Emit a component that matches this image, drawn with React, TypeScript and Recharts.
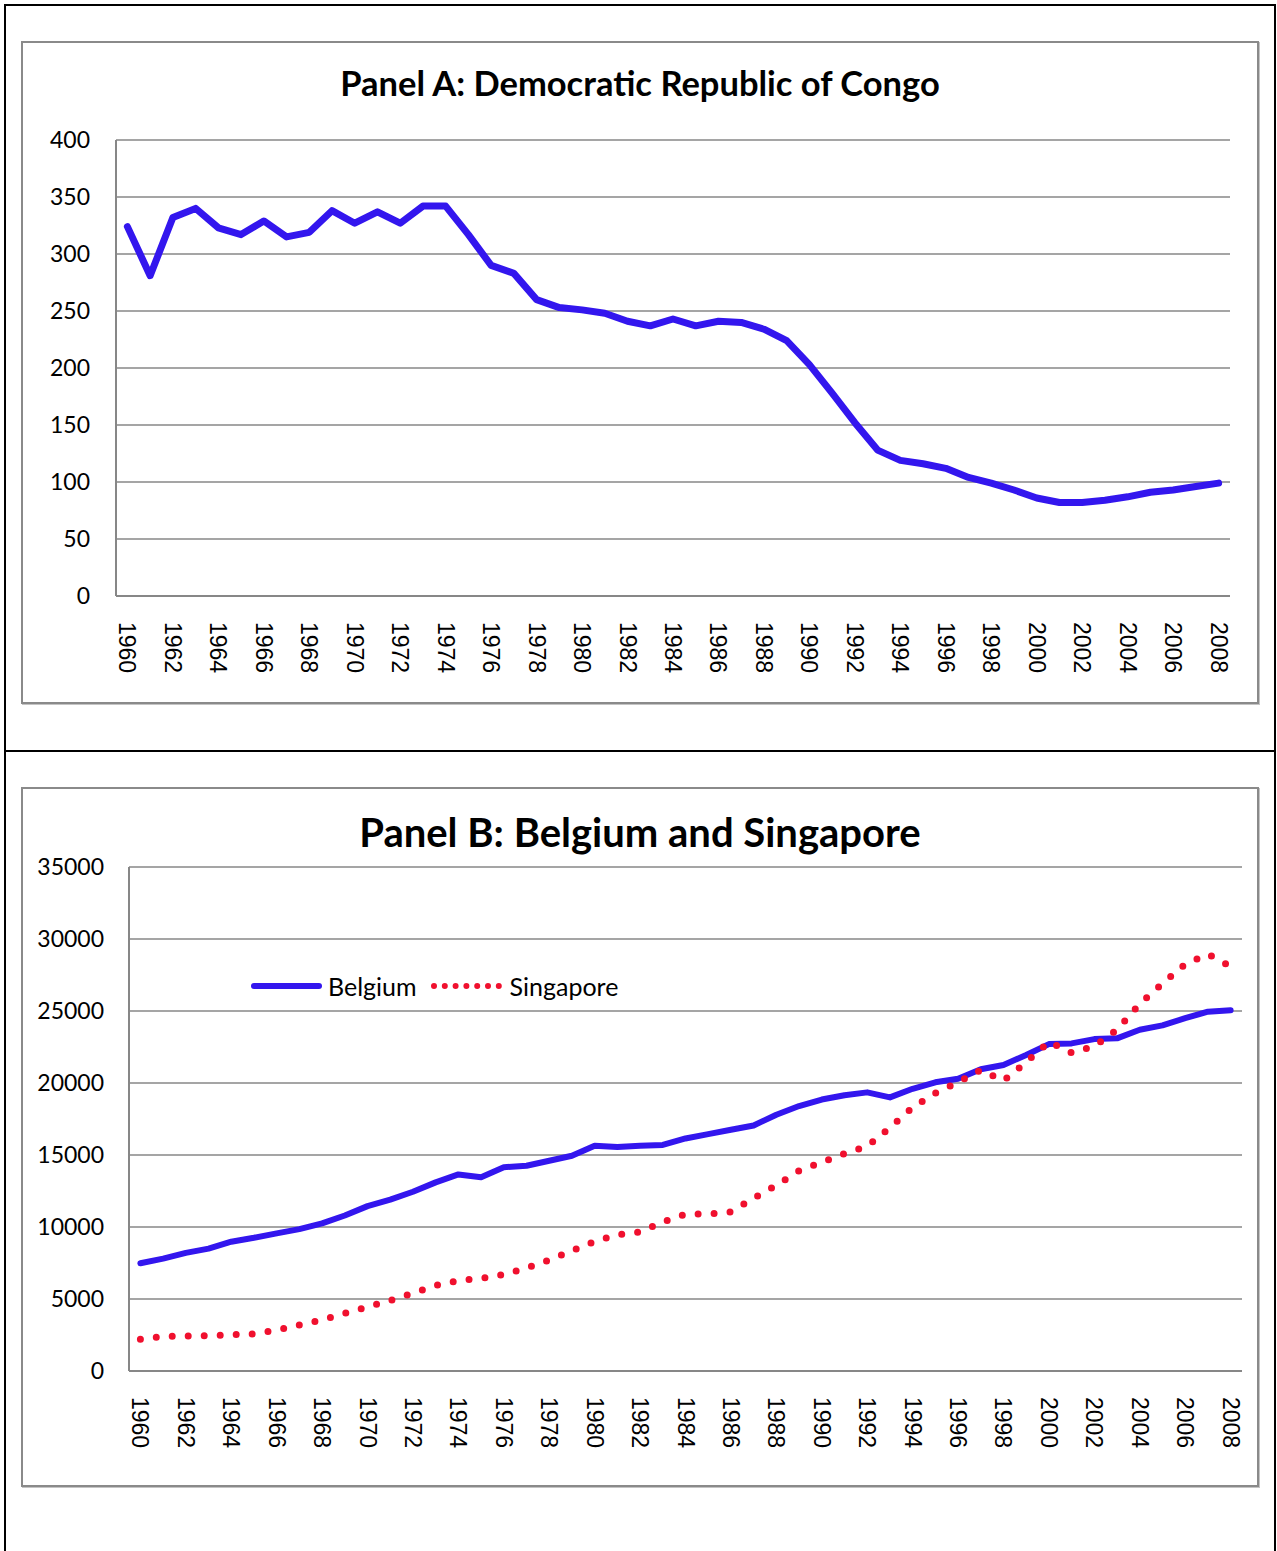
import React from "react";
import { LineChart, Line, XAxis, YAxis, CartesianGrid } from "recharts";

// categories
const YEARS = [
  "1960", "1961", "1962", "1963", "1964", "1965", "1966", "1967", "1968", "1969",
  "1970", "1971", "1972", "1973", "1974", "1975", "1976", "1977", "1978", "1979",
  "1980", "1981", "1982", "1983", "1984", "1985", "1986", "1987", "1988", "1989",
  "1990", "1991", "1992", "1993", "1994", "1995", "1996", "1997", "1998", "1999",
  "2000", "2001", "2002", "2003", "2004", "2005", "2006", "2007", "2008",
];

// Panel A
const CONGO = [
  324, 281, 332, 340, 323, 317, 329, 315, 319, 338,
  327, 337, 327, 342, 342, 317, 290, 283, 260, 253,
  251, 248, 241, 237, 243, 237, 241, 240, 234, 224,
  203, 178, 152, 128, 119, 116, 112, 104, 99, 93,
  86, 82, 82, 84, 87, 91, 93, 96, 99,
];

// Panel B
const BELGIUM = [
  7480, 7800, 8200, 8500, 8980, 9250, 9560, 9850, 10250, 10800,
  11450, 11900, 12450, 13100, 13650, 13450, 14150, 14250, 14600, 14950,
  15650, 15550, 15650, 15700, 16150, 16450, 16750, 17050, 17800, 18400,
  18850, 19150, 19350, 19000, 19600, 20050, 20300, 20950, 21250, 21950,
  22700, 22750, 23050, 23100, 23700, 24000, 24500, 24950, 25050,
];
const SINGAPORE = [
  2200, 2400, 2430, 2460, 2520, 2580, 2850, 3200, 3550, 4000,
  4450, 4900, 5400, 5950, 6280, 6420, 6700, 7150, 7700, 8350,
  9000, 9450, 9650, 10350, 10900, 10900, 11050, 12000, 12900, 13900,
  14500, 15100, 15600, 16900, 18300, 19300, 20050, 20900, 20150, 21450,
  22850, 22100, 22550, 23700, 25500, 26900, 28250, 28950, 28100,
];

const TICKS_A = [0, 50, 100, 150, 200, 250, 300, 350, 400];
const TICKS_B = [0, 5000, 10000, 15000, 20000, 25000, 30000, 35000];

const dataA = YEARS.map((year, i) => ({ year, congo: CONGO[i] }));
const dataB = YEARS.map((year, i) => ({ year, belgium: BELGIUM[i], singapore: SINGAPORE[i] }));

const BLUE = "#3316ee";
const RED = "#f0102e";
const GRID = "#878787";
const FRAME_BLUE = "#4f81bd";
const NUM_FONT = "Lato, sans-serif";

const YearTick = (props: any) => {
  const { x, y, payload } = props;
  return (
    <text
      x={x}
      y={y}
      transform={`rotate(90, ${x}, ${y})`}
      textAnchor="start"
      dominantBaseline="central"
      fontFamily="'Liberation Sans', Arial, sans-serif"
      fontSize={23}
      fill="#000"
    >
      {payload.value}
    </text>
  );
};

const panelBox: React.CSSProperties = {
  position: "absolute",
  left: 21,
  width: 1234,
  border: "2px solid #8a8a8a",
  boxShadow: "1px 1px 0 #c4c4c4",
};

const titleStyle: React.CSSProperties = {
  position: "absolute",
  left: 0,
  width: 1280,
  textAlign: "center",
  fontFamily: "Lato, sans-serif",
  fontWeight: 700,
  color: "#000",
  lineHeight: 1,
  whiteSpace: "nowrap",
};

const pad = { left: 11.4, right: 11.4 };

function LegendB() {
  return (
    <div style={{ position: "absolute", left: 248, top: 971, display: "flex", alignItems: "center", fontFamily: NUM_FONT, fontSize: 25, color: "#000", lineHeight: "30px" }}>
      <svg width={76} height={12}>
        <line x1={6} y1={6} x2={71} y2={6} stroke={BLUE} strokeWidth={6} strokeLinecap="round" />
      </svg>
      <span style={{ marginLeft: 4, marginRight: 12 }}>Belgium</span>
      <svg width={76} height={12}>
        <line x1={5} y1={6} x2={70} y2={6} stroke={RED} strokeWidth={6} strokeLinecap="round" strokeDasharray="0 10.8" />
      </svg>
      <span style={{ marginLeft: 5 }}>Singapore</span>
    </div>
  );
}

export default function App() {
  return (
    <div style={{ position: "absolute", left: 0, top: 0, width: 1277, height: 1551, background: "#fff", overflow: "hidden" }}>
      {/* outer table frame */}
      <div style={{ position: "absolute", left: 4, top: 4, width: 1268, height: 1560, borderLeft: "2px solid #000", borderTop: "2px solid #000", borderRight: "2px solid #000" }} />
      <div style={{ position: "absolute", left: 4, top: 750, width: 1272, height: 2, background: "#000" }} />

      {/* Panel A */}
      <div style={{ ...panelBox, top: 41, height: 659 }} />
      <div style={{ ...titleStyle, top: 66, fontSize: 34.5 }}>Panel A: Democratic Republic of Congo</div>
      <div style={{ position: "absolute", left: 0, top: 0 }}>
        <LineChart width={1277} height={750} data={dataA} margin={{ top: 140, right: 47, bottom: 74, left: 56 }}>
          <CartesianGrid vertical={false} stroke={GRID} strokeWidth={1.5} />
          <XAxis
            dataKey="year"
            interval={1}
            padding={pad}
            height={80}
            tickSize={0}
            tickMargin={26}
            tick={<YearTick />}
            axisLine={{ stroke: GRID, strokeWidth: 2 }}
            tickLine={false}
          />
          <XAxis xAxisId="top" dataKey="year" orientation="top" height={0} padding={pad} tick={false} tickLine={false} axisLine={{ stroke: FRAME_BLUE, strokeWidth: 1.5 }} />
          <YAxis
            domain={[0, 400]}
            ticks={TICKS_A}
            interval={0}
            width={60}
            tickSize={0}
            tickMargin={26}
            tickLine={false}
            axisLine={{ stroke: GRID, strokeWidth: 2 }}
            tick={{ fontFamily: NUM_FONT, fontSize: 23, fill: "#000" }}
          />
          <YAxis yAxisId="right" orientation="right" domain={[0, 400]} width={0} tick={false} tickLine={false} axisLine={{ stroke: FRAME_BLUE, strokeWidth: 1.5 }} />
          <Line type="linear" dataKey="congo" stroke={BLUE} strokeWidth={7} dot={false} strokeLinejoin="round" strokeLinecap="round" isAnimationActive={false} />
        </LineChart>
      </div>

      {/* Panel B */}
      <div style={{ ...panelBox, top: 787, height: 696 }} />
      <div style={{ ...titleStyle, top: 812, fontSize: 40 }}>Panel B: Belgium and Singapore</div>
      <div style={{ position: "absolute", left: 0, top: 750 }}>
        <LineChart width={1277} height={801} data={dataB} margin={{ top: 117, right: 35, bottom: 100, left: 49 }}>
          <CartesianGrid vertical={false} stroke={GRID} strokeWidth={1.5} />
          <XAxis
            dataKey="year"
            interval={1}
            padding={pad}
            height={80}
            tickSize={0}
            tickMargin={26}
            tick={<YearTick />}
            axisLine={{ stroke: GRID, strokeWidth: 2 }}
            tickLine={false}
          />
          <XAxis xAxisId="top" dataKey="year" orientation="top" height={0} padding={pad} tick={false} tickLine={false} axisLine={{ stroke: FRAME_BLUE, strokeWidth: 1.5 }} />
          <YAxis
            domain={[0, 35000]}
            ticks={TICKS_B}
            interval={0}
            width={80}
            tickSize={0}
            tickMargin={25}
            tickLine={false}
            axisLine={{ stroke: GRID, strokeWidth: 2 }}
            tick={{ fontFamily: NUM_FONT, fontSize: 23, fill: "#000" }}
          />
          <YAxis yAxisId="right" orientation="right" domain={[0, 35000]} width={0} tick={false} tickLine={false} axisLine={{ stroke: FRAME_BLUE, strokeWidth: 1.5 }} />
          <Line type="linear" dataKey="belgium" name="Belgium" stroke={BLUE} strokeWidth={6} dot={false} strokeLinejoin="round" strokeLinecap="round" isAnimationActive={false} />
          <Line type="linear" dataKey="singapore" name="Singapore" stroke={RED} strokeWidth={7} dot={false} strokeLinecap="round" strokeDasharray="0 16" isAnimationActive={false} />
        </LineChart>
      </div>
      <LegendB />
    </div>
  );
}
